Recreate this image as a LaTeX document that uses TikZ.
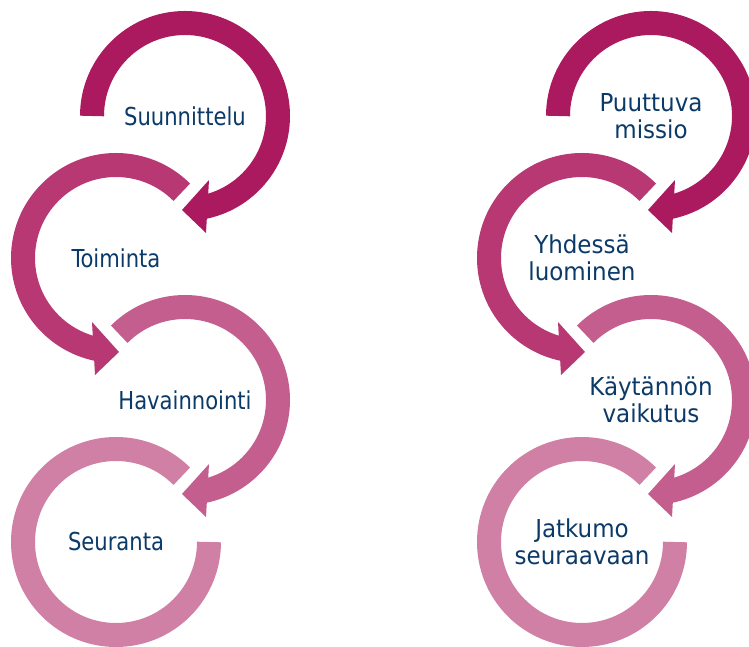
\documentclass[tikz,border=0pt]{standalone}
\usepackage{fontspec}
\setmainfont[FakeStretch=0.95]{DejaVu Sans Condensed}
\newfontfamily\widefont[FakeStretch=1.035]{DejaVu Sans Condensed}
\usetikzlibrary{calc}
\definecolor{ring1}{HTML}{AB1A5E}
\definecolor{ring2}{HTML}{B73872}
\definecolor{ring3}{HTML}{C35E8E}
\definecolor{ring4}{HTML}{D07FA5}
\definecolor{navy}{HTML}{0B3A68}
\tikzset{
  txt/.style={text=navy, font=\fontsize{24.7}{27}\selectfont, align=center, inner sep=0pt},
  wtxt/.style={txt, font=\widefont\fontsize{24.7}{27.5}\selectfont},
  band/.style={line width=24pt},
}
\begin{document}
\begin{tikzpicture}[x=1pt,y=1pt]
      \useasboundingbox (0,0) rectangle (749,647);
      \clip (0,0) rectangle (749,647);
      \path
        (185,531) node[txt] (a1) {Suunnittelu}
        (116,389) node[txt] (a2) {Toiminta}
        (185,247) node[txt] (a3) {Havainnointi}
        (116,105) node[txt] (a4) {Seuranta}
        (651,531) node[wtxt] (b1) {Puuttuva\\missio}
        (582,389) node[wtxt] (b2) {Yhdessä\\luominen}
        (651,247) node[wtxt] (b3) {Käytännön\\vaikutus}
        (582,105) node[wtxt] (b4) {Jatkumo\\seuraavaan};
      \begin{scope}[band]
        \draw[ring1] ($(a1)+(180:93)$) arc[start angle=180, end angle=-80, radius=93];
        \fill[ring1] ($(a1)+(24,-64)$) -- ($(a1)+(21,-117)$) -- ($(a1)+(-3,-94)$) -- cycle;
        \draw[ring2] ($(a2)+(45:93)$) arc[start angle=45, end angle=260, radius=93];
        \fill[ring2] ($(a2)+(-24,-64)$) -- ($(a2)+(-21,-117)$) -- ($(a2)+(3,-94)$) -- cycle;
        \draw[ring3] ($(a3)+(135:93)$) arc[start angle=135, end angle=-80, radius=93];
        \fill[ring3] ($(a3)+(24,-64)$) -- ($(a3)+(21,-117)$) -- ($(a3)+(-3,-94)$) -- cycle;
        \draw[ring4] ($(a4)+(45:93)$) arc[start angle=45, end angle=360, radius=93];
        \draw[ring1] ($(b1)+(180:93)$) arc[start angle=180, end angle=-80, radius=93];
        \fill[ring1] ($(b1)+(24,-64)$) -- ($(b1)+(21,-117)$) -- ($(b1)+(-3,-94)$) -- cycle;
        \draw[ring2] ($(b2)+(45:93)$) arc[start angle=45, end angle=260, radius=93];
        \fill[ring2] ($(b2)+(-24,-64)$) -- ($(b2)+(-21,-117)$) -- ($(b2)+(3,-94)$) -- cycle;
        \draw[ring3] ($(b3)+(135:93)$) arc[start angle=135, end angle=-80, radius=93];
        \fill[ring3] ($(b3)+(24,-64)$) -- ($(b3)+(21,-117)$) -- ($(b3)+(-3,-94)$) -- cycle;
        \draw[ring4] ($(b4)+(45:93)$) arc[start angle=45, end angle=360, radius=93];
      \end{scope}
    \end{tikzpicture}
\end{document}
